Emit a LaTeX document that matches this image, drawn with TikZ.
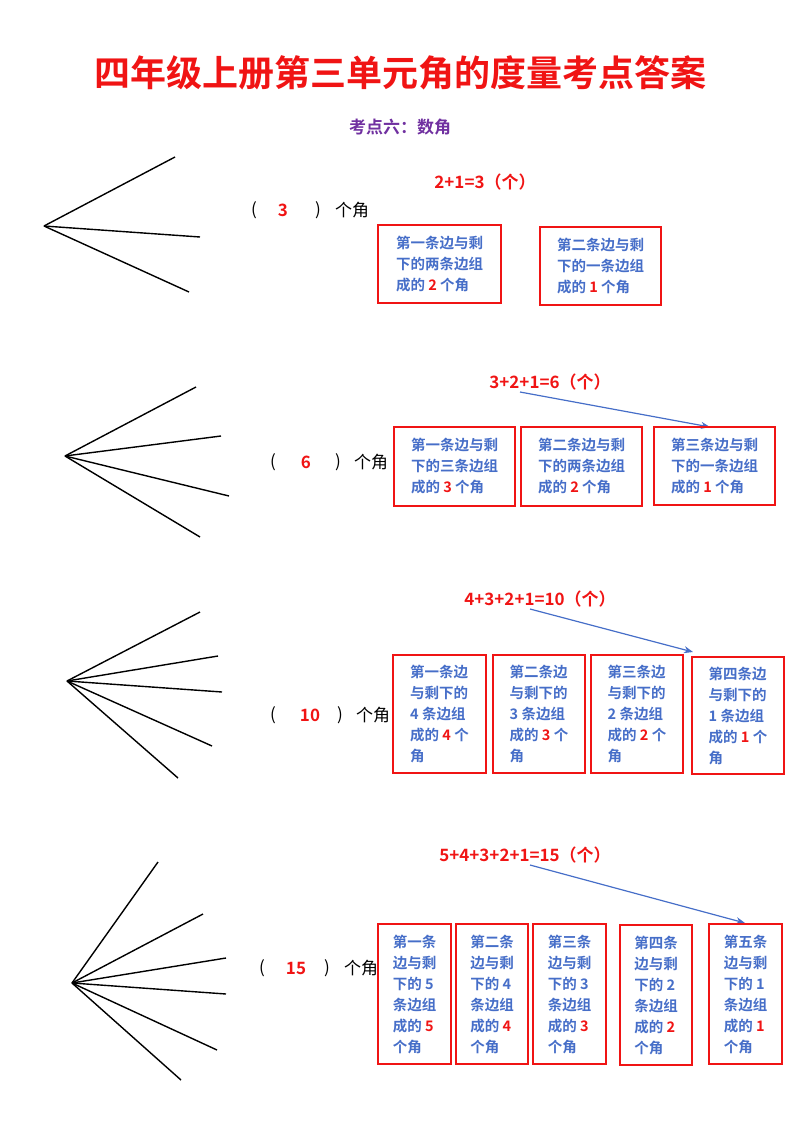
\documentclass[tikz,border=0pt]{standalone}
\usepackage{fontspec}
\setmainfont{Noto Sans CJK SC}
\newfontfamily\cjkb{Noto Sans CJK SC}[BoldFont={Noto Sans CJK SC Bold}]
\usetikzlibrary{arrows.meta}
\definecolor{tred}{RGB}{240,20,20}
\definecolor{tblue}{RGB}{70,110,200}
\definecolor{tpurple}{RGB}{112,48,160}
\newcommand{\Rn}[1]{\textcolor{tred}{#1}}
\tikzset{
 ray/.style={line width=1.4pt,black},
 box/.style={draw=tred,line width=1.3pt,text=tblue,font=\cjkb\bfseries\fontsize{14.5}{21}\selectfont,align=left,inner sep=0pt},
 sum/.style={text=tred,font=\cjkb\bfseries\fontsize{17}{18}\selectfont},
 lab/.style={font=\fontsize{17}{18}\selectfont},
 num/.style={text=tred,font=\cjkb\bfseries\fontsize{17}{18}\selectfont},
 arr/.style={draw=tblue,line width=1.2pt,-{Stealth[length=9pt,width=7pt]}}
}
\begin{document}
\begin{tikzpicture}[x=1pt,y=-1pt]
\useasboundingbox (0,0) rectangle (800,1132);
\node[text=tred,font=\cjkb\bfseries\fontsize{36}{40}\selectfont] (title) at (400,73) {四年级上册第三单元角的度量考点答案};
\node[text=tpurple,font=\cjkb\bfseries\fontsize{17}{18}\selectfont] (sub) at (400,127) {考点六：数角};
% row 1
\coordinate (v1) at (44,226);
\coordinate (r11) at (175,157); \coordinate (r12) at (200,237); \coordinate (r13) at (189,292);
\draw[ray] (v1) -- (r11); \draw[ray] (v1) -- (r12); \draw[ray] (v1) -- (r13);
\node[lab] (p1a) at (254,210) {(};
\node[num] (n1) at (283,210) {3};
\node[lab] (p1b) at (318,210) {)};
\node[lab] (g1) at (352,210) {个角};
\node[sum] (s1) at (485,182) {2+1=3（个）};
\draw[box] (378,225) rectangle (501,303); \node[box,draw=none] (b11) at (439.5,264) {第一条边与剩\\下的两条边组\\成的 \Rn{2} 个角};
\draw[box] (540,227) rectangle (661,305); \node[box,draw=none] (b12) at (600.5,266) {第二条边与剩\\下的一条边组\\成的 \Rn{1} 个角};
% row 2
\coordinate (v2) at (65,456);
\coordinate (r21) at (196,387); \coordinate (r22) at (221,436); \coordinate (r23) at (229,496); \coordinate (r24) at (200,537);
\draw[ray] (v2) -- (r21); \draw[ray] (v2) -- (r22); \draw[ray] (v2) -- (r23); \draw[ray] (v2) -- (r24);
\node[lab] (p2a) at (273,462) {(};
\node[num] (n2) at (306,462) {6};
\node[lab] (p2b) at (338,462) {)};
\node[lab] (g2) at (371,462) {个角};
\node[sum] (s2) at (550,382) {3+2+1=6（个）};
\coordinate (t2) at (520,392); \coordinate (a2) at (710,427);
\draw[arr] (t2) -- (a2);
\draw[box] (394,427) rectangle (515,506); \node[box,draw=none] (b21) at (454.5,466.5) {第一条边与剩\\下的三条边组\\成的 \Rn{3} 个角};
\draw[box] (521,427) rectangle (642,506); \node[box,draw=none] (b22) at (581.5,466.5) {第二条边与剩\\下的两条边组\\成的 \Rn{2} 个角};
\draw[box] (654,427) rectangle (775,505); \node[box,draw=none] (b23) at (714.5,466) {第三条边与剩\\下的一条边组\\成的 \Rn{1} 个角};
% row 3
\coordinate (v3) at (67,681);
\coordinate (r31) at (200,612); \coordinate (r32) at (218,656); \coordinate (r33) at (222,692); \coordinate (r34) at (212,746); \coordinate (r35) at (178,778);
\draw[ray] (v3) -- (r31); \draw[ray] (v3) -- (r32); \draw[ray] (v3) -- (r33); \draw[ray] (v3) -- (r34); \draw[ray] (v3) -- (r35);
\node[lab] (p3a) at (273,715) {(};
\node[num] (n3) at (310,715) {10};
\node[lab] (p3b) at (340,715) {)};
\node[lab] (g3) at (373,715) {个角};
\node[sum] (s3) at (540,599) {4+3+2+1=10（个）};
\coordinate (t3) at (530,609); \coordinate (a3) at (693,652);
\draw[arr] (t3) -- (a3);
\draw[box] (393,655) rectangle (486,773); \node[box,draw=none] (b31) at (439.5,714) {第一条边\\与剩下的\\4 条边组\\成的 \Rn{4} 个\\角};
\draw[box] (493,655) rectangle (585,773); \node[box,draw=none] (b32) at (539,714) {第二条边\\与剩下的\\3 条边组\\成的 \Rn{3} 个\\角};
\draw[box] (591,655) rectangle (683,773); \node[box,draw=none] (b33) at (637,714) {第三条边\\与剩下的\\2 条边组\\成的 \Rn{2} 个\\角};
\draw[box] (692,657) rectangle (784,774); \node[box,draw=none] (b34) at (738,715.5) {第四条边\\与剩下的\\1 条边组\\成的 \Rn{1} 个\\角};
% row 4
\coordinate (v4) at (72,983);
\coordinate (r41) at (158,862); \coordinate (r42) at (203,914); \coordinate (r43) at (226,958); \coordinate (r44) at (226,994); \coordinate (r45) at (217,1050); \coordinate (r46) at (181,1080);
\draw[ray] (v4) -- (r41); \draw[ray] (v4) -- (r42); \draw[ray] (v4) -- (r43); \draw[ray] (v4) -- (r44); \draw[ray] (v4) -- (r45); \draw[ray] (v4) -- (r46);
\node[lab] (p4a) at (262,968) {(};
\node[num] (n4) at (296,968) {15};
\node[lab] (p4b) at (327,968) {)};
\node[lab] (g4) at (361,968) {个角};
\node[sum] (s4) at (525,855) {5+4+3+2+1=15（个）};
\coordinate (t4) at (530,865); \coordinate (a4) at (745,923);
\draw[arr] (t4) -- (a4);
\draw[box] (378,924) rectangle (451,1064); \node[box,draw=none] (b41) at (414.5,994) {第一条\\边与剩\\下的 5\\条边组\\成的 \Rn{5}\\个角};
\draw[box] (456,924) rectangle (528,1064); \node[box,draw=none] (b42) at (492,994) {第二条\\边与剩\\下的 4\\条边组\\成的 \Rn{4}\\个角};
\draw[box] (533,924) rectangle (606,1064); \node[box,draw=none] (b43) at (569.5,994) {第三条\\边与剩\\下的 3\\条边组\\成的 \Rn{3}\\个角};
\draw[box] (620,925) rectangle (692,1065); \node[box,draw=none] (b44) at (656,995) {第四条\\边与剩\\下的 2\\条边组\\成的 \Rn{2}\\个角};
\draw[box] (709,924) rectangle (782,1064); \node[box,draw=none] (b45) at (745.5,994) {第五条\\边与剩\\下的 1\\条边组\\成的 \Rn{1}\\个角};
\end{tikzpicture}
\end{document}
